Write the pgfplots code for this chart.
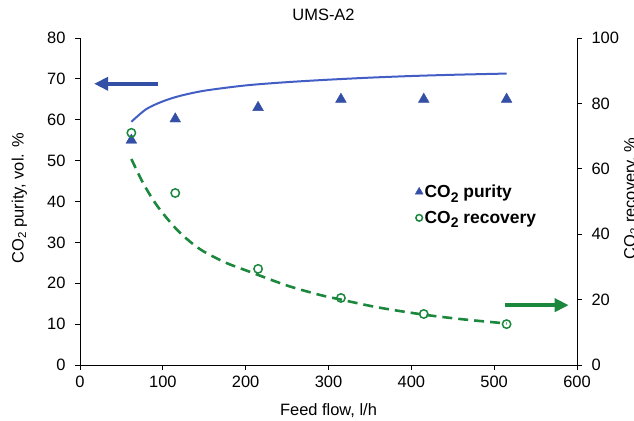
\documentclass[border=0pt]{standalone}
\usepackage{pgfplots}
\pgfplotsset{compat=1.18}
\usepackage{fontspec}
\setmainfont{Liberation Sans}
\usetikzlibrary{calc,arrows.meta}

\definecolor{pblue}{RGB}{52,80,166}
\definecolor{lblue}{RGB}{66,94,196}
\definecolor{rgreen}{RGB}{28,136,62}
% subscript as drawn in the legend: large and well lowered
\newcommand{\lsub}[1]{\raisebox{-0.5ex}{\fontsize{14}{14}\selectfont #1}}

\begin{document}
\begin{tikzpicture}
\pgfplotsset{
    every axis/.append style={
        scale only axis,
        width=497bp, height=327bp,
        xmin=0, xmax=600, ymin=0,
        tick align=outside,
        major tick length=5bp,
        axis line style={-, line width=1pt},
        every tick/.style={black, line width=0.9pt},
        /pgf/number format/assume math mode=true,
        tick label style={font=\fontsize{16.5}{19}\selectfont},
        label style={font=\fontsize{16.5}{19}\selectfont},
    },
}
% left axis: purity
\begin{axis}[
    name=ax,
    axis x line*=bottom,
    axis y line*=left,
    ymax=80,
    xtick={0,100,...,600},
    ytick={0,10,...,80},
    xticklabel style={yshift=-3bp},
    yticklabel style={xshift=-6bp},
    xlabel={Feed flow, l/h},
    xlabel style={at={(axis description cs:0.5,-0.138)}, anchor=center},
    ylabel={CO\textsubscript{2} purity, vol. \%},
    ylabel style={at={(axis description cs:-0.122,0.51)}, anchor=center},
    title={UMS-A2},
    title style={at={(axis description cs:0.49,1.052)}, anchor=center,
        font=\fontsize{16.5}{19}\selectfont},
]
    % model curve
    \addplot[lblue, line width=2bp, smooth] coordinates {
        (62,59.5) (80,62.6) (100,64.5) (120,65.8) (150,67.1) (200,68.4)
        (250,69.2) (300,69.8) (350,70.3) (400,70.7) (450,71.0) (515,71.3)
    };
    % measured purity
    \addplot[only marks, mark=triangle*, mark size=6.2bp, pblue] coordinates {
        (62,55) (115,60.2) (215,63) (315,65) (415,65) (515,65)
    };
    \draw[pblue, line width=4bp, -{Triangle[length=14bp,width=13bp]}]
        (axis cs:94,68.8) -- (axis cs:17,68.8);
\end{axis}
% right axis: recovery
\begin{axis}[
    axis y line*=right,
    axis x line=none,
    ymax=100,
    ytick={0,20,...,100},
    yticklabel style={xshift=6bp},
    ylabel={CO\textsubscript{2} recovery, \%},
    ylabel style={at={(axis description cs:1.11,0.51)}, anchor=center},
    legend style={draw=none, fill=none, at={(axis description cs:0.668,0.49)},
        anchor=west, font=\bfseries\fontsize{17.5}{20}\selectfont,
        row sep=9bp, nodes={inner sep=1.5bp}},
    legend cell align=left,
    legend image code/.code={\draw[#1] plot coordinates {(0.1cm,0cm)};},
]
    \addlegendimage{only marks, mark=triangle*, mark size=4.6bp, pblue}
    \addlegendentry{CO\lsub{2} purity}
    % model curve
    \addplot[rgreen, line width=2.6bp, dash pattern=on 10bp off 6bp, smooth, forget plot] coordinates {
        (62,63) (75,56.2) (88,50.6) (100,46.4) (120,40.6) (145,35.4) (175,31.4)
        (205,28.5) (250,24.3) (290,21.4) (315,20.0) (360,17.6) (415,15.4)
        (465,13.9) (515,12.7)
    };
    % measured recovery
    \addplot[only marks, mark=o, mark size=4.2bp, line width=1.5bp, rgreen,
        legend image code/.code={\draw[only marks, mark=o, mark size=3.3bp,
            line width=1.5bp, rgreen] plot coordinates {(0.1cm,0cm)};}] coordinates {
        (62,71) (115,52.6) (215,29.4) (315,20.5) (415,15.6) (515,12.5)
    };
    \addlegendentry{CO\lsub{2} recovery}
    \draw[rgreen, line width=4bp, -{Triangle[length=14bp,width=13bp]}]
        (axis cs:513,18.3) -- (axis cs:590,18.3);
\end{axis}
\pgfresetboundingbox
\path ($(ax.south west)+(-80bp,-56bp)$) rectangle ($(ax.north east)+(57bp,38bp)$);
\end{tikzpicture}
\end{document}
